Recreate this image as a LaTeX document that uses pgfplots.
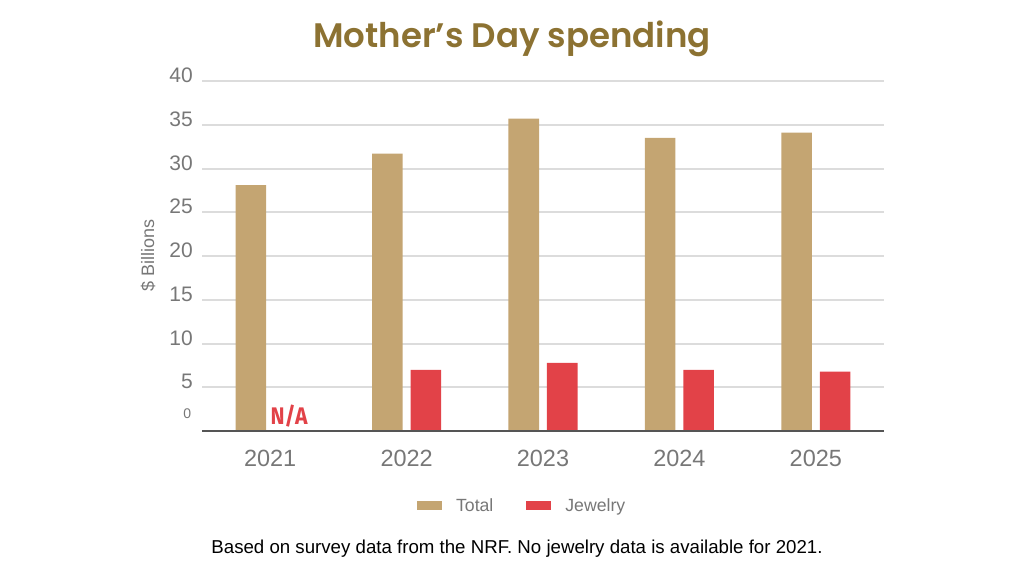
\documentclass[border=0pt]{standalone}
\usepackage{fontspec}
\setmainfont{Liberation Sans}
\newfontfamily\titlefont{Poppins}[BoldFont={* SemiBold}]
\newfontfamily\nafont[FakeStretch=0.88]{Fira Sans}
\usepackage{pgfplots}
\pgfplotsset{compat=1.18}

\definecolor{totalc}{RGB}{196,165,114}
\definecolor{jewelc}{RGB}{226,66,72}
\definecolor{titlec}{RGB}{140,114,50}
\definecolor{labelc}{RGB}{119,119,119}
\definecolor{gridc}{RGB}{220,220,220}
\definecolor{axisc}{RGB}{85,85,85}

\begin{document}
\begin{tikzpicture}
% page is 1024 x 576 px, 1 px = 0.75 pt
\begin{scope}[x=0.75pt,y=0.75pt]
\path[use as bounding box] (0,0) rectangle (1024,576);
\end{scope}

\begin{axis}[
    at={(151.5pt,108.75pt)}, anchor=south west,
    scale only axis,
    width=511.5pt, height=262.5pt,
    xmin=-0.5, xmax=4.5,
    ymin=0, ymax=40,
    ybar, bar width=0.224,
    clip=false,
    axis line style={draw=none},
    major tick length=0pt,
    xtick={0,1,2,3,4},
    xticklabels={2021,2022,2023,2024,2025},
    ytick={5,10,15,20,25,30,35,40},
    ymajorgrids,
    grid style={color=gridc, line width=1.5pt},
    /pgf/number format/assume math mode=true,
    xticklabel style={font=\fontsize{17.6pt}{20pt}\selectfont, text=labelc, inner sep=0pt, anchor=north, yshift=-14.25pt},
    yticklabel style={font=\fontsize{15.75pt}{18pt}\selectfont, text=labelc, inner sep=0pt, anchor=east, xshift=-6.75pt, yshift=4.2pt},
    legend columns=2,
    legend style={
        at={(0.468,-0.214)}, anchor=center,
        draw=none, fill=none,
        font=\fontsize{13.25pt}{15pt}\selectfont,
        text=labelc,
        /tikz/every odd column/.append style={column sep=10.5pt},
        /tikz/every even column/.append style={column sep=24.75pt},
        nodes={inner sep=0pt},
    },
    legend image code/.code={\fill[#1] (0pt,-3.4pt) rectangle (18.75pt,3.4pt);},
]

% Total
\addplot[fill=totalc, draw=none, bar shift=-0.141] coordinates {
    (0,28.1) (1,31.7) (2,35.7) (3,33.5) (4,34.1)
};
\addlegendentry{Total}

% Jewelry (no 2021 data)
\addplot[fill=jewelc, draw=none, bar shift=0.141] coordinates {
    (1,7.0) (2,7.8) (3,7.0) (4,6.8)
};
\addlegendentry{Jewelry}

% baseline
\draw[axisc, line width=1.5pt] (axis cs:-0.5,0) -- (axis cs:4.5,0);

% zero label and N/A note
\node[text=labelc, font=\fontsize{10.5pt}{12pt}\selectfont, inner sep=0pt] at (axis cs:-0.608,1.94) {0};
\node[text=jewelc, font=\nafont\bfseries\fontsize{18pt}{20pt}\selectfont, inner sep=0pt, anchor=base] at (axis cs:0.139,0.8) {N/A};
\end{axis}

\begin{scope}[x=0.75pt,y=0.75pt]
\node[text=titlec, font=\titlefont\bfseries\fontsize{25.5pt}{30pt}\selectfont] at (512,537) {Mother’s Day spending};
\node[text=labelc, font=\fontsize{13.5pt}{15pt}\selectfont, rotate=90] at (148,321) {\$ Billions};
\node[text=black, font=\fontsize{14pt}{16pt}\selectfont] at (517,27) {Based on survey data from the NRF. No jewelry data is available for 2021.};
\end{scope}
\end{tikzpicture}
\end{document}
